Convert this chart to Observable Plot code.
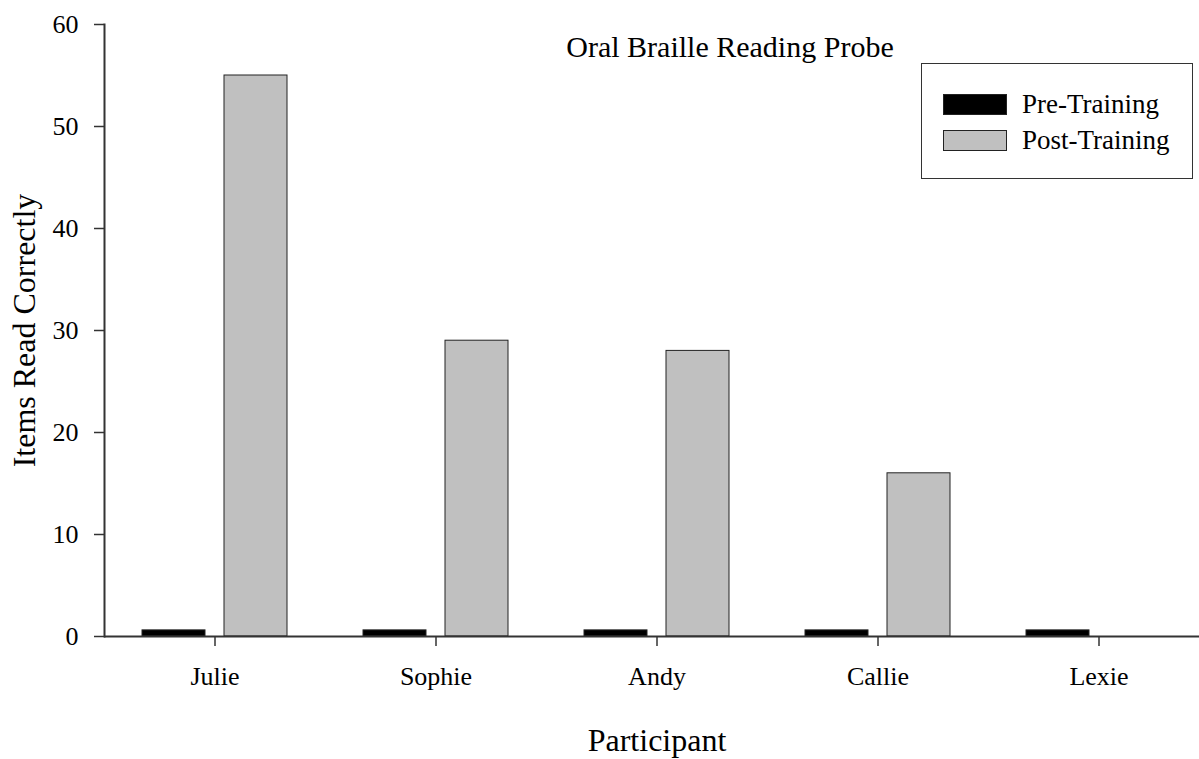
<!DOCTYPE html>
<html><head><meta charset="utf-8">
<script src="https://cdn.jsdelivr.net/npm/d3@7"></script>
<script src="https://cdn.jsdelivr.net/npm/@observablehq/plot@0.6"></script>
<style>
html,body{margin:0;padding:0;background:#fff;overflow:hidden;}
#wrap{position:relative;width:1199px;height:759px;font-family:"Liberation Serif","Times New Roman",serif;color:#000;}
#title{position:absolute;left:730px;top:32px;transform:translateX(-50%);font-size:30px;line-height:30px;white-space:nowrap;}
#legend{position:absolute;left:921px;top:63px;width:270px;height:114px;border:1.5px solid #333;background:#fff;}
.item{position:absolute;left:21px;height:22px;display:flex;align-items:center;white-space:nowrap;font-size:27px;}
.sw{width:62px;height:19px;border:1px solid #222;margin-right:15px;box-sizing:content-box;}
svg [aria-label$="axis label"] text{font-size:32px;}
</style></head><body><div id="wrap"><div id="title"></div><div id="legend"></div></div>
<script>
const participants = ["Julie", "Sophie", "Andy", "Callie", "Lexie"];
const seriesNames = ["Pre-Training", "Post-Training"];
const preTraining = [0.6, 0.6, 0.6, 0.6, 0.6];
const postTraining = [55, 29, 28, 16, 0];
const yTicks = [0, 10, 20, 30, 40, 50, 60];
const seriesColors = ["#000000", "#c0c0c0"];
const chartTitle = "Oral Braille Reading Probe";
const xLabel = "Participant";
const yLabel = "Items Read Correctly";

const data = participants.flatMap((p, i) => [
  {participant: p, series: seriesNames[0], value: preTraining[i]},
  {participant: p, series: seriesNames[1], value: postTraining[i]}
]).filter(d => d.value > 0);

const chart = Plot.plot({
  width: 1199,
  height: 759,
  marginLeft: 104,
  marginRight: -10,
  marginTop: 24,
  marginBottom: 123,
  style: {fontFamily: "'Liberation Serif', 'Times New Roman', serif", fontSize: "26px", color: "#000", background: "transparent", overflow: "visible"},
  fx: {domain: participants, paddingInner: 0, paddingOuter: 0},
  x: {domain: seriesNames, paddingInner: 0.2317, paddingOuter: 0.4634, axis: null},
  y: {domain: [0, 60]},
  color: {domain: seriesNames, range: seriesColors},
  marks: [
    Plot.barY(data, {fx: "participant", x: "series", y: "value", fill: "series", stroke: "#222", strokeWidth: 1}),
    Plot.ruleY([0], {stroke: "#333", strokeWidth: 2}),
    Plot.frame({anchor: "left", facetAnchor: "left", stroke: "#333", strokeWidth: 2}),
    Plot.axisY({ticks: yTicks, tickSize: 10, tickPadding: 16, stroke: "#333", strokeWidth: 1.5, fill: "#000",
      label: yLabel, labelAnchor: "center", labelArrow: "none", labelOffset: 92}),
    Plot.axisFx({anchor: "bottom", tickSize: 10, tickPadding: 20, stroke: "#333", strokeWidth: 1.5, fill: "#000",
      label: xLabel, labelAnchor: "center", labelArrow: "none", labelOffset: 114})
  ]
});
const wrap = document.getElementById("wrap");
wrap.insertBefore(chart, wrap.firstChild);
document.getElementById("title").textContent = chartTitle;
const legend = document.getElementById("legend");
seriesNames.forEach((s, i) => {
  const item = document.createElement("div");
  item.className = "item";
  item.style.top = (i === 0 ? 29 : 65) + "px";
  const sw = document.createElement("span");
  sw.className = "sw";
  sw.style.background = seriesColors[i];
  const t = document.createElement("span");
  t.textContent = s;
  item.appendChild(sw); item.appendChild(t);
  legend.appendChild(item);
});
</script></body></html>
